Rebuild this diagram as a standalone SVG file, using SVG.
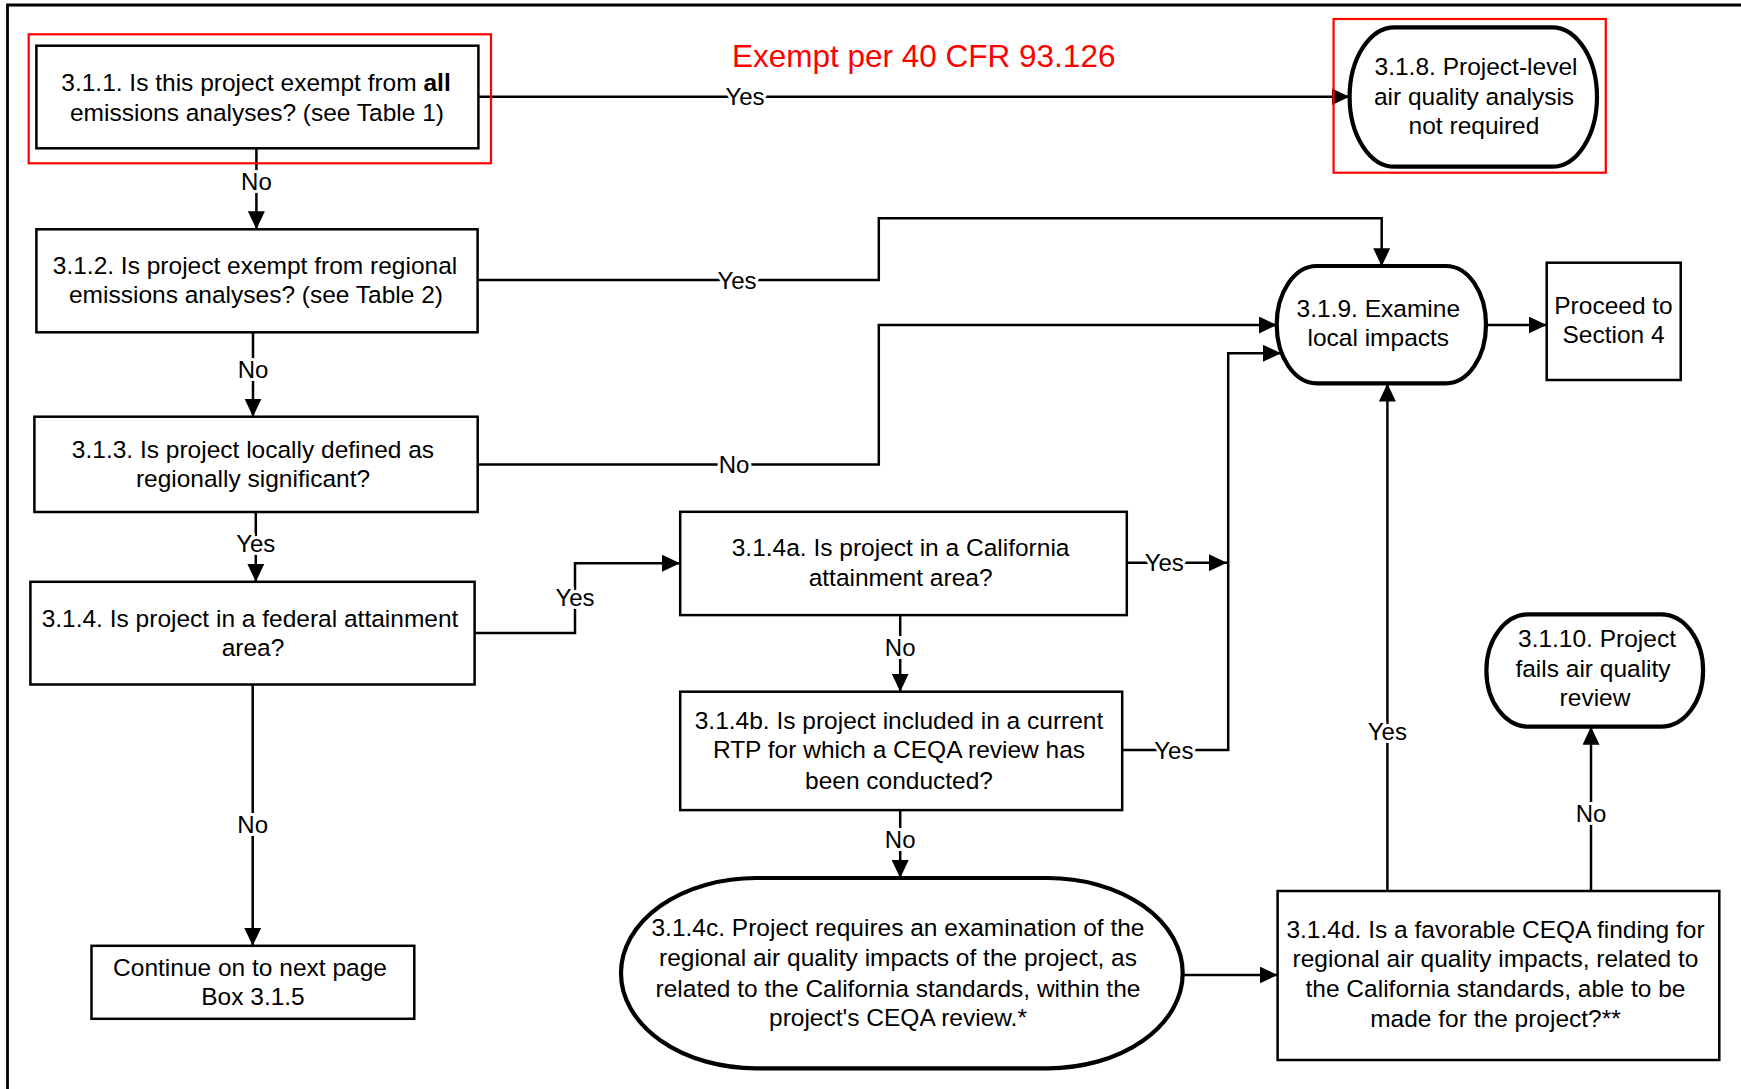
<svg xmlns="http://www.w3.org/2000/svg" width="1741" height="1089" viewBox="0 0 1741 1089">
<defs>
<marker id="arr" markerUnits="userSpaceOnUse" markerWidth="18" markerHeight="17" refX="18" refY="8.5" orient="auto">
<path d="M0,0 L18,8.5 L0,17 z" fill="#000"/>
</marker>
<style>
.box{fill:#fff;stroke:#000;stroke-width:2.5}
.term{fill:#fff;stroke:#000;stroke-width:4.2}
.red{fill:none;stroke:#ff0000;stroke-width:2.2}
.t{font-family:"Liberation Sans",Arial,sans-serif;font-size:24.5px;fill:#000;text-anchor:middle}
.lbl{font-family:"Liberation Sans",Arial,sans-serif;font-size:24px;fill:#000;text-anchor:middle;stroke:#fff;stroke-width:6;paint-order:stroke;stroke-linejoin:round}
.c{fill:none;stroke:#000;stroke-width:2.5}
.ca{fill:none;stroke:#000;stroke-width:2.5;marker-end:url(#arr)}
</style>
</defs>
<rect width="1741" height="1089" fill="#fff"/>
<g id="frame">
<path d="M7.5,1089 V5 H1741" fill="none" stroke="#000" stroke-width="2.8"/>
</g>
<g id="connectors">
<path class="ca" d="M478.4,96.7 H1349.5"/>
<path class="ca" d="M256.4,148.3 V229.3"/>
<path class="ca" d="M477.6,280 H878.8 V218.3 H1381.7 V266.2"/>
<path class="ca" d="M253,332.3 V416.7"/>
<path class="ca" d="M477.7,464.6 H878.8 V325 H1277"/>
<path class="ca" d="M255.8,512 V581.8"/>
<path class="ca" d="M474.6,632.9 H575 V563.2 H680"/>
<path class="ca" d="M252.7,684.5 V945.8"/>
<path class="ca" d="M1126.8,562.7 H1227"/>
<path class="ca" d="M1122.2,750 H1228.2 V353.3 H1281"/>
<path class="ca" d="M900.2,615 V691.7"/>
<path class="ca" d="M900.2,810 V878"/>
<path class="ca" d="M1182.7,975 H1277.6"/>
<path class="ca" d="M1387.4,891 V383.5"/>
<path class="ca" d="M1591,891 V726.7"/>
<path class="ca" d="M1486,325 H1546.7"/>
<text class="lbl" x="745" y="105">Yes</text>
<text class="lbl" x="256.4" y="190">No</text>
<text class="lbl" x="737" y="288.5">Yes</text>
<text class="lbl" x="253" y="378">No</text>
<text class="lbl" x="734" y="472.5">No</text>
<text class="lbl" x="255.8" y="552">Yes</text>
<text class="lbl" x="575" y="605.5">Yes</text>
<text class="lbl" x="252.7" y="832.5">No</text>
<text class="lbl" x="1164.3" y="571">Yes</text>
<text class="lbl" x="900.2" y="655.5">No</text>
<text class="lbl" x="1173.9" y="758.5">Yes</text>
<text class="lbl" x="900.2" y="847.5">No</text>
<text class="lbl" x="1387.4" y="740">Yes</text>
<text class="lbl" x="1591" y="822">No</text>
</g>
<g id="title">
<text x="923.7" y="66.7" font-family="Liberation Sans, Arial, sans-serif" font-size="31.5" fill="#ff0000" text-anchor="middle">Exempt per 40 CFR 93.126</text>
</g>
<g id="n311">
<rect class="red" x="28.7" y="34.3" width="462.3" height="129"/>
<rect class="box" x="36.4" y="45.7" width="442" height="102.6"/>
<text class="t" x="256" y="90.7">3.1.1. Is this project exempt from <tspan font-weight="bold">all</tspan></text>
<text class="t" x="257" y="120.7">emissions analyses? (see Table 1)</text>
</g>
<g id="n318">
<rect class="red" x="1333.6" y="19" width="272.2" height="153.7"/>
<rect class="term" x="1349.6" y="27.3" width="247.4" height="139.4" rx="45" ry="69.7"/>
<text class="t" x="1476" y="75">3.1.8. Project-level</text>
<text class="t" x="1474" y="104.5">air quality analysis</text>
<text class="t" x="1474" y="134">not required</text>
</g>
<g id="n312">
<rect class="box" x="36.4" y="229.3" width="441.2" height="103"/>
<text class="t" x="255" y="274">3.1.2. Is project exempt from regional</text>
<text class="t" x="256" y="303.3">emissions analyses? (see Table 2)</text>
</g>
<g id="n319">
<rect class="term" x="1276.7" y="266" width="209.3" height="117.3" rx="40" ry="58.6"/>
<text class="t" x="1378.3" y="316.7">3.1.9. Examine</text>
<text class="t" x="1378.3" y="346">local impacts</text>
</g>
<g id="nproceed">
<rect class="box" x="1546.7" y="262.7" width="134" height="117.3"/>
<text class="t" x="1613.5" y="314">Proceed to</text>
<text class="t" x="1613.5" y="343.3">Section 4</text>
</g>
<g id="n313">
<rect class="box" x="34.4" y="416.7" width="443.3" height="95.3"/>
<text class="t" x="253" y="457.6">3.1.3. Is project locally defined as</text>
<text class="t" x="253" y="486.5">regionally significant?</text>
</g>
<g id="n314">
<rect class="box" x="30.4" y="581.8" width="444.2" height="102.7"/>
<text class="t" x="250" y="627.3">3.1.4. Is project in a federal attainment</text>
<text class="t" x="253" y="656">area?</text>
</g>
<g id="ncontinue">
<rect class="box" x="91.5" y="945.8" width="322.8" height="73"/>
<text class="t" x="250" y="976">Continue on to next page</text>
<text class="t" x="253" y="1005.3">Box 3.1.5</text>
</g>
<g id="n314a">
<rect class="box" x="680.2" y="511.8" width="446.6" height="103.3"/>
<text class="t" x="900.6" y="555.7">3.1.4a. Is project in a California</text>
<text class="t" x="900.6" y="585.6">attainment area?</text>
</g>
<g id="n314b">
<rect class="box" x="680.2" y="691.7" width="442" height="118.4"/>
<text class="t" x="899" y="728.5">3.1.4b. Is project included in a current</text>
<text class="t" x="899" y="758.4">RTP for which a CEQA review has</text>
<text class="t" x="899" y="788.7">been conducted?</text>
</g>
<g id="n314c">
<rect class="term" x="621" y="878" width="561.7" height="190.3" rx="135" ry="95"/>
<text class="t" x="898" y="936.3">3.1.4c. Project requires an examination of the</text>
<text class="t" x="898" y="966.2">regional air quality impacts of the project, as</text>
<text class="t" x="898" y="996.5">related to the California standards, within the</text>
<text class="t" x="898" y="1025.6">project's CEQA review.*</text>
</g>
<g id="n3110">
<rect class="term" x="1486.4" y="614.3" width="216.7" height="112.4" rx="42" ry="56"/>
<text class="t" x="1597" y="646.7">3.1.10. Project</text>
<text class="t" x="1593" y="676.7">fails air quality</text>
<text class="t" x="1595" y="706">review</text>
</g>
<g id="n314d">
<rect class="box" x="1277.6" y="891" width="441.7" height="169"/>
<text class="t" x="1495.5" y="938">3.1.4d. Is a favorable CEQA finding for</text>
<text class="t" x="1495.5" y="967">regional air quality impacts, related to</text>
<text class="t" x="1495.5" y="996.5">the California standards, able to be</text>
<text class="t" x="1495.5" y="1026.5">made for the project?**</text>
</g>
</svg>
